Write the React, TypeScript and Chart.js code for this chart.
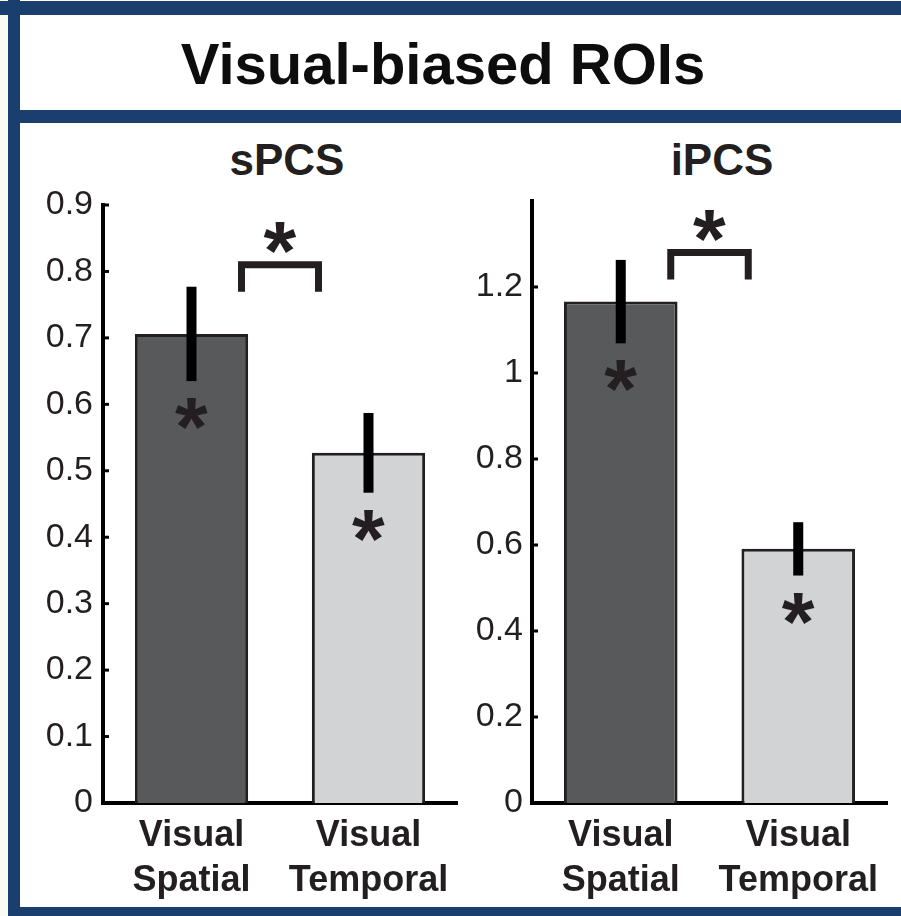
import React, { useEffect, useRef } from "react";
import { Chart, registerables } from "chart.js";

Chart.register(...registerables);

// Conditions on the x axis (two-line labels)
const categories = [
  ["Visual", "Spatial"],
  ["Visual", "Temporal"],
];

// sPCS: mean response and error (half-length of the error bar)
const spcsMeans = [0.706, 0.527];
const spcsErrors = [0.071, 0.06];

// iPCS: mean response and error
const ipcsMeans = [1.166, 0.591];
const ipcsErrors = [0.097, 0.062];

// Y tick values for each panel
const spcsTicks = [0, 0.1, 0.2, 0.3, 0.4, 0.5, 0.6, 0.7, 0.8, 0.9];
const ipcsTicks = [0, 0.2, 0.4, 0.6, 0.8, 1, 1.2];

// Height (in data units) of the between-condition significance bracket
const spcsBracketLevel = 0.81;
const ipcsBracketLevel = 1.28;

const barFills = ["#58595b", "#d1d3d4"];
const ink = "#231f20";
const navy = "#1a3e6e";
const family = '"Liberation Sans", Arial, Helvetica, sans-serif';

function drawStar(ctx: CanvasRenderingContext2D, cx: number, cy: number) {
  ctx.save();
  ctx.font = `bold 84px ${family}`;
  ctx.fillStyle = ink;
  ctx.textAlign = "left";
  ctx.textBaseline = "alphabetic";
  const m = ctx.measureText("*");
  const inkLeft = -m.actualBoundingBoxLeft;
  const inkRight = m.actualBoundingBoxRight;
  const inkTop = -m.actualBoundingBoxAscent;
  const inkBottom = m.actualBoundingBoxDescent;
  const x = cx - (inkLeft + inkRight) / 2;
  const y = cy - (inkTop + inkBottom) / 2;
  ctx.fillText("*", x, y);
  ctx.restore();
}

function marksPlugin(means: number[], errors: number[], bracketLevel: number) {
  return {
    id: "significanceMarks",
    afterDatasetsDraw(chart: any) {
      const ctx: CanvasRenderingContext2D = chart.ctx;
      const yScale = chart.scales.y;
      const bars = chart.getDatasetMeta(0).data;
      ctx.save();

      // error bars and within-condition stars
      bars.forEach((bar: any, i: number) => {
        const top = yScale.getPixelForValue(means[i] + errors[i]);
        const bottom = yScale.getPixelForValue(means[i] - errors[i]);
        ctx.fillStyle = "#000";
        ctx.fillRect(bar.x - 5, top, 10, bottom - top);
        drawStar(ctx, bar.x, bottom + 33);
      });

      // bracket between the two conditions
      const yb = yScale.getPixelForValue(bracketLevel);
      const x0 = bars[0].x + 50;
      const x1 = bars[1].x - 50;
      ctx.strokeStyle = ink;
      ctx.lineWidth = 7;
      ctx.lineJoin = "miter";
      ctx.lineCap = "butt";
      ctx.beginPath();
      ctx.moveTo(x0, yb + 27);
      ctx.lineTo(x0, yb);
      ctx.lineTo(x1, yb);
      ctx.lineTo(x1, yb + 27);
      ctx.stroke();
      drawStar(ctx, (x0 + x1) / 2, yb - 27);

      // inward tick marks on the y axis
      ctx.strokeStyle = "#000";
      ctx.lineWidth = 3;
      yScale.ticks.forEach((t: any) => {
        const py = yScale.getPixelForValue(t.value);
        ctx.beginPath();
        ctx.moveTo(yScale.right, py);
        ctx.lineTo(yScale.right + 6, py);
        ctx.stroke();
      });
      ctx.restore();
    },
  };
}

type PanelProps = {
  means: number[];
  errors: number[];
  tickValues: number[];
  max: number;
  bracketLevel: number;
  yWidth: number;
  padTop: number;
  padRight: number;
  labelPad: number;
  left: number;
  width: number;
};

function BarPanel(p: PanelProps) {
  const ref = useRef<HTMLCanvasElement>(null);
  useEffect(() => {
    const chart = new Chart(ref.current as HTMLCanvasElement, {
      type: "bar",
      data: {
        labels: categories,
        datasets: [
          {
            data: p.means,
            backgroundColor: barFills,
            borderColor: ink,
            borderWidth: 3,
            borderSkipped: "start",
            barPercentage: 0.64,
            categoryPercentage: 1,
          },
        ],
      },
      options: {
        responsive: false,
        animation: false,
        devicePixelRatio: 1,
        layout: { padding: { top: p.padTop, right: p.padRight, left: 0, bottom: 0 } },
        plugins: {
          legend: { display: false },
          tooltip: { enabled: false },
          title: { display: false },
        },
        scales: {
          x: {
            grid: { display: false, drawTicks: false },
            border: { display: true, color: "#000", width: 4 },
            ticks: {
              color: ink,
              font: { family, size: 36, weight: "bold", lineHeight: 1.25 },
              padding: 11,
              maxRotation: 0,
              autoSkip: false,
            },
            afterFit: (s: any) => {
              s.height = 104;
            },
          },
          y: {
            min: 0,
            max: p.max,
            grid: { display: false, drawTicks: false },
            border: { display: true, color: "#000", width: 4 },
            ticks: {
              color: ink,
              font: { family, size: 34 },
              padding: p.labelPad,
              callback: (v: any) => String(Math.round(Number(v) * 10) / 10),
            },
            afterBuildTicks: (s: any) => {
              s.ticks = p.tickValues.map((v) => ({ value: v }));
            },
            afterFit: (s: any) => {
              s.width = p.yWidth;
            },
          },
        },
      } as any,
      plugins: [marksPlugin(p.means, p.errors, p.bracketLevel)],
    });
    return () => chart.destroy();
  }, []);
  return (
    <canvas
      ref={ref}
      width={p.width}
      height={784}
      style={{ position: "absolute", left: p.left, top: 123, width: p.width, height: 784 }}
    />
  );
}

const box = (style: React.CSSProperties): React.CSSProperties => ({ position: "absolute", ...style });

export default function App() {
  return (
    <div
      style={{
        position: "absolute",
        left: 0,
        top: 0,
        width: 901,
        height: 916,
        background: "#ffffff",
        overflow: "hidden",
        fontFamily: family,
      }}
    >
      <div style={box({ left: 0, top: 0, width: 8, height: 916, background: "#fbfaf3" })} />
      <div style={box({ left: 0, top: 1, width: 901, height: 14, background: navy })} />
      <div style={box({ left: 8, top: 0, width: 12, height: 916, background: navy })} />
      <div style={box({ left: 8, top: 110, width: 893, height: 13, background: navy })} />
      <div style={box({ left: 8, top: 907, width: 893, height: 9, background: navy })} />

      <div
        style={box({
          left: 143,
          top: 35,
          width: 600,
          textAlign: "center",
          fontSize: 58,
          lineHeight: "58px",
          fontWeight: "bold",
          color: "#0d0d0d",
        })}
      >
        Visual-biased ROIs
      </div>
      <div
        style={box({
          left: 187,
          top: 138,
          width: 200,
          textAlign: "center",
          fontSize: 44,
          lineHeight: "44px",
          fontWeight: "bold",
          color: ink,
        })}
      >
        sPCS
      </div>
      <div
        style={box({
          left: 622,
          top: 138,
          width: 200,
          textAlign: "center",
          fontSize: 44,
          lineHeight: "44px",
          fontWeight: "bold",
          color: ink,
        })}
      >
        iPCS
      </div>

      <BarPanel
        means={spcsMeans}
        errors={spcsErrors}
        tickValues={spcsTicks}
        max={0.9}
        bracketLevel={spcsBracketLevel}
        yWidth={83}
        padTop={82}
        padRight={3}
        labelPad={10}
        left={20}
        width={440}
      />
      <BarPanel
        means={ipcsMeans}
        errors={ipcsErrors}
        tickValues={ipcsTicks}
        max={1.4}
        bracketLevel={ipcsBracketLevel}
        yWidth={72}
        padTop={78}
        padRight={14}
        labelPad={9}
        left={460}
        width={441}
      />
    </div>
  );
}
